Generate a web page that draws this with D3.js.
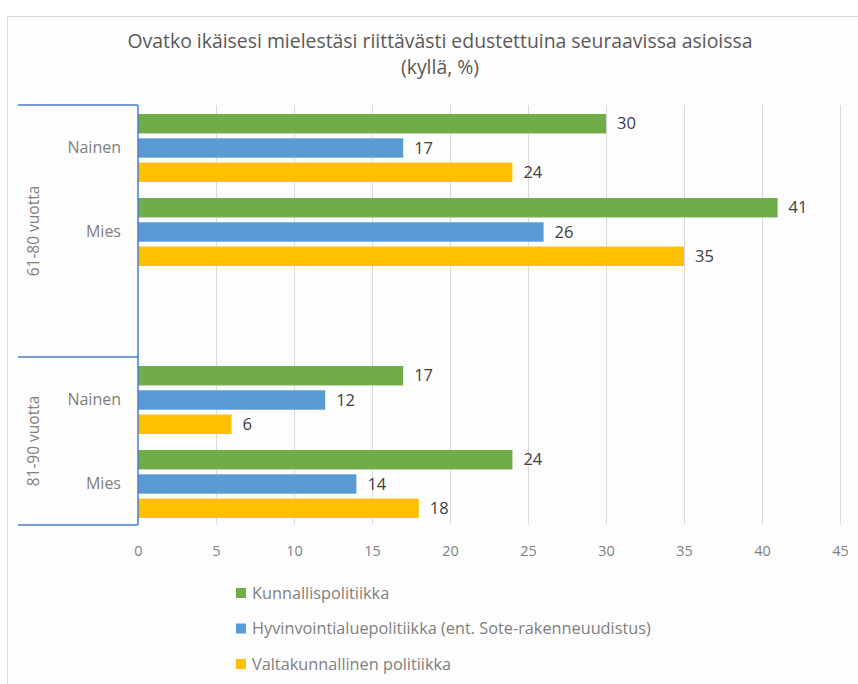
<!DOCTYPE html>
<html>
<head>
<meta charset="utf-8">
<script src="https://cdn.jsdelivr.net/npm/d3@7"></script>
<style>
  body { margin: 0; background: #fff; }
  text { font-family: "Open Sans", sans-serif; }
</style>
</head>
<body>
<div id="chart"></div>
<script>
// data
var rowKeys = ["a-Nainen", "a-Mies", "a-tyhja", "b-Nainen", "b-Mies"];
var rowLabels = ["Nainen", "Mies", "", "Nainen", "Mies"];
var groups = ["61-80 vuotta", "81-90 vuotta"];
var groupRows = [[0, 2], [3, 4]];
var series = ["Kunnallispolitiikka", "Hyvinvointialuepolitiikka (ent. Sote-rakenneuudistus)", "Valtakunnallinen politiikka"];
var kunnallis = [30, 41, null, 17, 24];
var hyvinvointi = [17, 26, null, 12, 14];
var valtakunnallinen = [24, 35, null, 6, 18];
var xTicks = [0, 5, 10, 15, 20, 25, 30, 35, 40, 45];
var colors = ["#70ad47", "#5b9bd5", "#ffc000"];

(function () {
  var width = 858, height = 684;
  var plot = { left: 138, right: 840, top: 105, bottom: 525 };

  var svg = d3.select('#chart').append('svg')
    .attr('width', width).attr('height', height);

  // outer chart frame
  svg.append('rect')
    .attr('x', 7.5).attr('y', 16.5)
    .attr('width', 900).attr('height', 700)
    .attr('fill', '#fdfdfd').attr('stroke', '#d9d9d9');

  svg.append('text')
    .attr('x', 440).attr('y', 48)
    .attr('text-anchor', 'middle')
    .attr('fill', '#595959').style('font-size', '19.4px')
    .text('Ovatko ikäisesi mielestäsi riittävästi edustettuina seuraavissa asioissa');
  svg.append('text')
    .attr('x', 440).attr('y', 74)
    .attr('text-anchor', 'middle')
    .attr('fill', '#595959').style('font-size', '19.4px')
    .text('(kyllä, %)');

  var x = d3.scaleLinear().domain([0, 45]).range([plot.left, plot.right]);
  var y0 = d3.scaleBand().domain(rowKeys).range([plot.top, plot.bottom]);
  var y1 = d3.scaleBand().domain(series).range([1, y0.bandwidth() + 1])
    .paddingInner(0.2).paddingOuter(0.33);

  // gridlines
  svg.append('g')
    .attr('transform', 'translate(0,' + plot.bottom + ')')
    .call(d3.axisBottom(x).tickValues(xTicks.slice(1)).tickSize(-(plot.bottom - plot.top)).tickFormat(''))
    .call(function (g) {
      g.select('.domain').remove();
      g.selectAll('line').attr('stroke', '#d9d9d9');
    });

  // tick labels
  svg.append('g')
    .attr('transform', 'translate(0,' + (plot.bottom + 18) + ')')
    .call(d3.axisBottom(x).tickValues(xTicks).tickSize(0))
    .call(function (g) {
      g.select('.domain').remove();
      g.selectAll('text').attr('fill', '#7f7f7f')
        .style('font-size', '14.5px').style('font-family', '"Open Sans", sans-serif');
    });

  var values = [kunnallis, hyvinvointi, valtakunnallinen];
  var bars = [];
  rowKeys.forEach(function (k, i) {
    series.forEach(function (s, j) {
      if (values[j][i] != null) bars.push({ row: k, s: s, j: j, v: values[j][i] });
    });
  });

  svg.append('g').selectAll('rect').data(bars).enter().append('rect')
    .attr('x', x(0))
    .attr('y', function (d) { return y0(d.row) + y1(d.s); })
    .attr('width', function (d) { return x(d.v) - x(0); })
    .attr('height', y1.bandwidth())
    .attr('fill', function (d) { return colors[d.j]; });

  svg.append('g').selectAll('text').data(bars).enter().append('text')
    .attr('x', function (d) { return x(d.v) + 11; })
    .attr('y', function (d) { return y0(d.row) + y1(d.s) + y1.bandwidth() / 2; })
    .attr('dy', '0.35em')
    .attr('fill', '#404040').style('font-size', '16.5px')
    .text(function (d) { return d.v; });

  // category axis
  var axisColor = '#4a7bd0';
  svg.append('line')
    .attr('x1', plot.left).attr('x2', plot.left)
    .attr('y1', plot.top).attr('y2', plot.bottom)
    .attr('stroke', axisColor).attr('stroke-width', 1.5);

  var bounds = [plot.top, y0(rowKeys[3]), plot.bottom];
  svg.append('g').selectAll('line').data(bounds).enter().append('line')
    .attr('x1', 18).attr('x2', plot.left)
    .attr('y1', function (d) { return d; }).attr('y2', function (d) { return d; })
    .attr('stroke', axisColor).attr('stroke-width', 1.5);

  svg.append('g').selectAll('text').data(rowLabels).enter().append('text')
    .attr('x', 121)
    .attr('y', function (d, i) { return y0(rowKeys[i]) + y0.bandwidth() / 2; })
    .attr('dy', '0.35em')
    .attr('text-anchor', 'end')
    .attr('fill', '#7f7f7f').style('font-size', '16px')
    .text(function (d) { return d; });

  svg.append('g').selectAll('text').data(groups).enter().append('text')
    .attr('transform', function (d, i) {
      var r = groupRows[i];
      var cy = (y0(rowKeys[r[0]]) + y0(rowKeys[r[1]]) + y0.bandwidth()) / 2;
      return 'translate(34,' + cy + ') rotate(-90)';
    })
    .attr('dy', '0.35em')
    .attr('text-anchor', 'middle')
    .attr('fill', '#7f7f7f').style('font-size', '15.5px')
    .text(function (d) { return d; });

  // legend
  var legend = svg.append('g').selectAll('g').data(series).enter().append('g')
    .attr('transform', function (d, i) { return 'translate(236,' + (593 + i * 35.5) + ')'; });
  legend.append('rect')
    .attr('x', 0).attr('y', -5).attr('width', 10).attr('height', 10)
    .attr('fill', function (d, i) { return colors[i]; });
  legend.append('text')
    .attr('x', 16).attr('dy', '0.35em')
    .attr('fill', '#7f7f7f').style('font-size', '16.3px')
    .text(function (d) { return d; });
})();
</script>
</body>
</html>
